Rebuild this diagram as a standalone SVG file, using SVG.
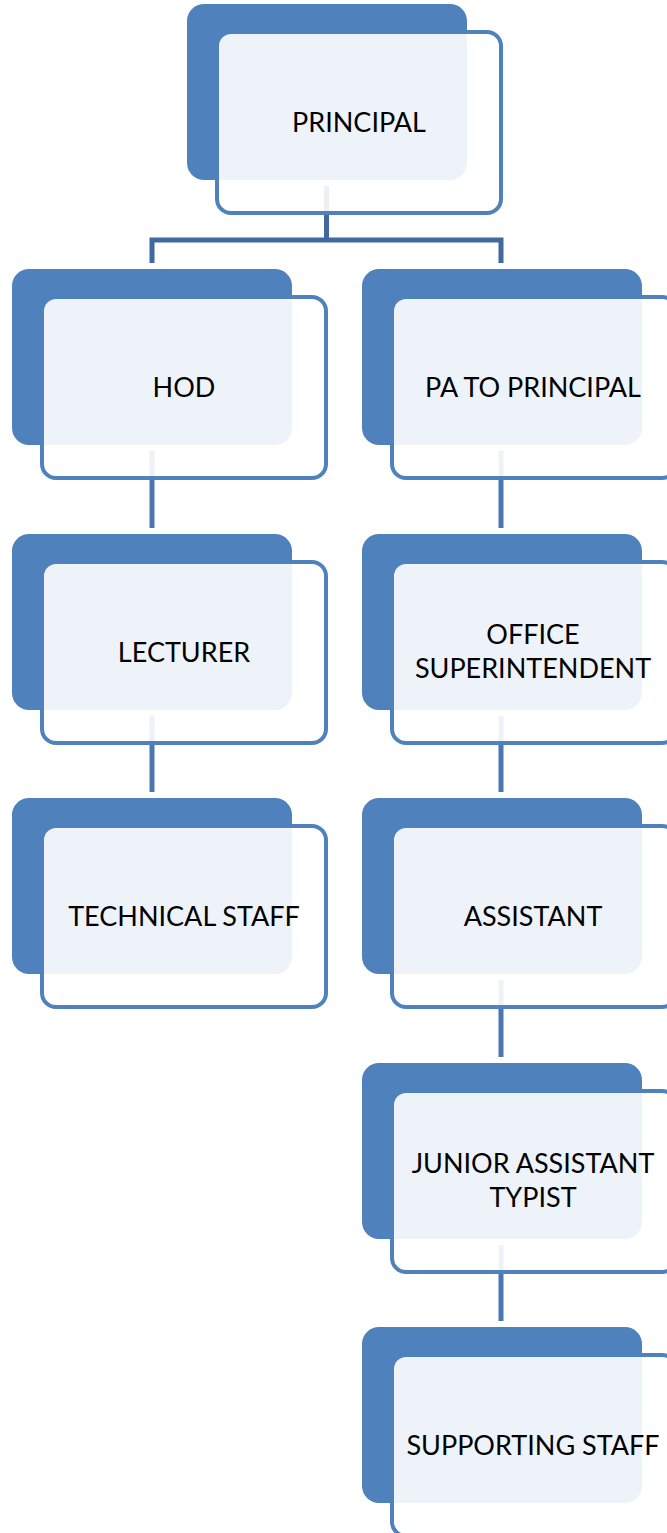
<svg xmlns="http://www.w3.org/2000/svg" width="667" height="1533" viewBox="0 0 667 1533">
  <style>
    .back { fill: #4F81BD; }
    .front { fill: #FFFFFF; fill-opacity: 0.9; stroke: #4F81BD; stroke-width: 4; }
    .lbl { font-family: Lato, "Open Sans", "Liberation Sans", sans-serif; font-size: 27px; fill: #000000; text-anchor: middle; }
    .top { stroke: #41699D; stroke-width: 5; fill: none; }
    .chain { stroke: #4A77B1; stroke-width: 5; fill: none; }
  </style>
  <rect width="667" height="1533" fill="#FFFFFF"/>
  <g id="connectors">
    <path class="top" d="M326.5 186 V240 M149.5 240 H503.5 M152 240 V263 M501 240 V263"/>
    <path class="chain" d="M152 451 V528 M152 716 V792"/>
    <path class="chain" d="M501 451 V528 M501 716 V792 M501 980 V1057 M501 1245 V1321"/>
  </g>
  <g id="principal">
    <rect class="back" x="187" y="4" width="280" height="176" rx="17"/>
    <rect class="front" x="217" y="32" width="284" height="181" rx="14"/>
    <text class="lbl" x="359" y="132">PRINCIPAL</text>
  </g>
  <g id="hod">
    <rect class="back" x="12" y="269" width="280" height="176" rx="17"/>
    <rect class="front" x="42" y="297" width="284" height="181" rx="14"/>
    <text class="lbl" x="184" y="397">HOD</text>
  </g>
  <g id="pa">
    <rect class="back" x="362" y="269" width="280" height="176" rx="17"/>
    <rect class="front" x="392" y="297" width="284" height="181" rx="14"/>
    <text class="lbl" x="533" y="397">PA TO PRINCIPAL</text>
  </g>
  <g id="lecturer">
    <rect class="back" x="12" y="534" width="280" height="176" rx="17"/>
    <rect class="front" x="42" y="562" width="284" height="181" rx="14"/>
    <text class="lbl" x="184" y="662">LECTURER</text>
  </g>
  <g id="office">
    <rect class="back" x="362" y="534" width="280" height="176" rx="17"/>
    <rect class="front" x="392" y="562" width="284" height="181" rx="14"/>
    <text class="lbl" x="533" y="644">OFFICE</text>
    <text class="lbl" x="533" y="678">SUPERINTENDENT</text>
  </g>
  <g id="technical">
    <rect class="back" x="12" y="798" width="280" height="176" rx="17"/>
    <rect class="front" x="42" y="826" width="284" height="181" rx="14"/>
    <text class="lbl" x="184" y="926">TECHNICAL STAFF</text>
  </g>
  <g id="assistant">
    <rect class="back" x="362" y="798" width="280" height="176" rx="17"/>
    <rect class="front" x="392" y="826" width="284" height="181" rx="14"/>
    <text class="lbl" x="533" y="926">ASSISTANT</text>
  </g>
  <g id="junior">
    <rect class="back" x="362" y="1063" width="280" height="176" rx="17"/>
    <rect class="front" x="392" y="1091" width="284" height="181" rx="14"/>
    <text class="lbl" x="533" y="1173">JUNIOR ASSISTANT</text>
    <text class="lbl" x="533" y="1207">TYPIST</text>
  </g>
  <g id="supporting">
    <rect class="back" x="362" y="1327" width="280" height="176" rx="17"/>
    <rect class="front" x="392" y="1355" width="284" height="181" rx="14"/>
    <text class="lbl" x="533" y="1455">SUPPORTING STAFF</text>
  </g>
</svg>
